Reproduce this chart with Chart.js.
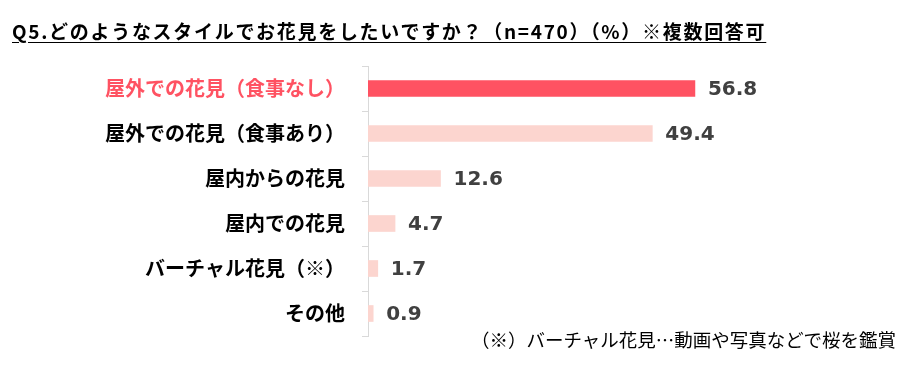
<!DOCTYPE html>
<html>
<head>
<meta charset="utf-8">
<script src="https://cdn.jsdelivr.net/npm/chart.js@4"></script>
<style>
  body { margin: 0; background: #fff; }
  #wrap { position: relative; width: 912px; height: 386px; }
  #title {
    position: absolute; left: 12px; top: 17px;
    font-family: "Noto Sans CJK JP", sans-serif; font-weight: bold; font-size: 19px;
    letter-spacing: 1.7px;
    color: #000; text-decoration: underline; text-underline-offset: 3px; white-space: nowrap;
  }
  #note {
    position: absolute; right: 16px; top: 326px;
    font-family: "Noto Sans CJK JP", sans-serif; font-size: 18.5px; color: #000; white-space: nowrap;
  }
  canvas { position: absolute; left: 0; top: 0; }
</style>
</head>
<body>
<div id="wrap">
  <canvas id="chart" width="912" height="386"></canvas>
  <div id="title">Q5.どのようなスタイルでお花見をしたいですか？（n=470）（%）※複数回答可</div>
  <div id="note">（※）バーチャル花見…動画や写真などで桜を鑑賞</div>
</div>
<script>
var labels = ['屋外での花見（食事なし）', '屋外での花見（食事あり）', '屋内からの花見', '屋内での花見', 'バーチャル花見（※）', 'その他'];
var values = [56.8, 49.4, 12.6, 4.7, 1.7, 0.9];
var barColors = ['#ff5262', '#fcd5cf', '#fcd5cf', '#fcd5cf', '#fcd5cf', '#fcd5cf'];
var labelColors = ['#ff5262', '#000000', '#000000', '#000000', '#000000', '#000000'];

// value text to the right of each bar
var valueLabels = {
    id: 'valueLabels',
    afterDatasetsDraw: function(chart) {
        var ctx = chart.ctx;
        var meta = chart.getDatasetMeta(0);
        ctx.save();
        ctx.font = 'bold 20px "DejaVu Sans"';
        ctx.fillStyle = '#404040';
        ctx.textAlign = 'left';
        ctx.textBaseline = 'middle';
        meta.data.forEach(function(bar, i) {
            ctx.fillText(values[i].toFixed(1), bar.x + 13, bar.y + 1);
        });
        ctx.restore();
    }
};

new Chart(document.getElementById('chart'), {
    type: 'bar',
    data: {
        labels: labels,
        datasets: [{
            data: values,
            backgroundColor: barColors,
            barThickness: 16
        }]
    },
    options: {
        indexAxis: 'y',
        responsive: false,
        animation: false,
        layout: { padding: { top: 66, bottom: 50, left: 0, right: 26 } },
        plugins: { legend: { display: false }, tooltip: { enabled: false } },
        scales: {
            x: { display: false, min: 0, max: 90 },
            y: {
                afterFit: function(scale) { scale.width = 368; },
                border: { color: '#d9d9d9' },
                grid: { offset: true, drawOnChartArea: false, color: '#d9d9d9', tickLength: 6 },
                ticks: {
                    padding: 17,
                    color: function(c) { return labelColors[c.index]; },
                    font: { family: '"Noto Sans CJK JP"', weight: 'bold', size: 20 }
                }
            }
        }
    },
    plugins: [valueLabels]
});
</script>
</body>
</html>
